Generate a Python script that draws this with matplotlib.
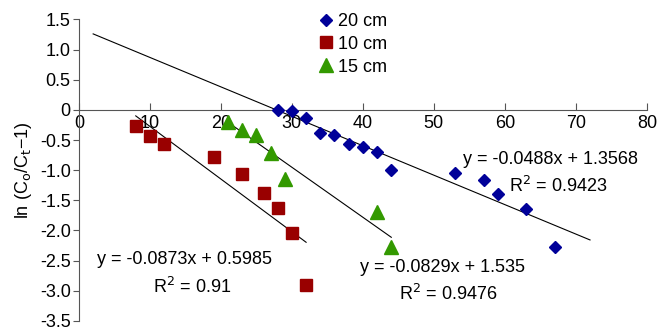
import numpy as np
import matplotlib
matplotlib.use("Agg")
import matplotlib.pyplot as plt

plt.rcParams['font.family'] = ['Liberation Sans', 'DejaVu Sans']
plt.rcParams['font.size'] = 13

# 20 cm
x_20 = [28, 30, 32, 34, 36, 38, 40, 42, 44, 53, 57, 59, 63, 67]
y_20 = [0.0, -0.02, -0.14, -0.38, -0.42, -0.57, -0.62, -0.70, -1.0, -1.04, -1.16, -1.39, -1.64, -2.28]
# 10 cm
x_10 = [8, 10, 12, 19, 23, 26, 28, 30, 32]
y_10 = [-0.26, -0.43, -0.57, -0.78, -1.06, -1.38, -1.63, -2.04, -2.91]
# 15 cm
x_15 = [21, 23, 25, 27, 29, 42, 44]
y_15 = [-0.20, -0.33, -0.42, -0.72, -1.15, -1.70, -2.28]

# trend lines (slope, intercept, x range)
fit_20 = (-0.0488, 1.3568, [2, 72])
fit_10 = (-0.0873, 0.5985, [8, 32])
fit_15 = (-0.0829, 1.535, [21, 44])

fig = plt.figure(figsize=(6.58, 3.34), dpi=100)
ax = fig.add_axes([0.12, 0.039, 0.863, 0.903])

for k, b, xr in [fit_20, fit_10, fit_15]:
    xs = np.array(xr)
    ax.plot(xs, k * xs + b, color='black', lw=0.8, zorder=2)

ax.plot(x_20, y_20, 'D', color='#000099', ms=6, ls='none', label='20 cm', zorder=3)
ax.plot(x_10, y_10, 's', color='#990000', ms=8.6, ls='none', label='10 cm', zorder=3)
ax.plot(x_15, y_15, '^', color='#339900', ms=9.5, ls='none', label='15 cm', zorder=3)

ax.text(54.1, -0.83, 'y = -0.0488x + 1.3568', va='center')
ax.text(60.6, -1.26, 'R$^2$ = 0.9423', va='center')
ax.text(2.5, -2.48, 'y = -0.0873x + 0.5985', va='center')
ax.text(10.4, -2.93, 'R$^2$ = 0.91', va='center')
ax.text(39.6, -2.62, 'y = -0.0829x + 1.535', va='center')
ax.text(45.1, -3.06, 'R$^2$ = 0.9476', va='center')

ax.set_xlim(0, 80)
ax.set_ylim(-3.5, 1.5)
ax.set_xticks(np.arange(0, 81, 10))
ax.set_yticks(np.arange(-3.5, 1.51, 0.5))
ax.set_yticklabels(['-3.5', '-3.0', '-2.5', '-2.0', '-1.5', '-1.0', '-0.5', '0', '0.5', '1.0', '1.5'])

ax.spines['top'].set_visible(False)
ax.spines['right'].set_visible(False)
ax.spines['bottom'].set_position(('data', 0))
ax.spines['bottom'].set_color('#555555')
ax.spines['left'].set_color('#555555')
ax.tick_params(axis='x', direction='in', length=5, color='#555555', pad=4)
ax.tick_params(axis='y', direction='out', length=4, color='#555555', pad=2)

ax.set_ylabel('ln (C$_\\mathrm{o}$/C$_\\mathrm{t}$\u22121)', labelpad=4)

ax.legend(loc='upper left', bbox_to_anchor=(0.403, 1.045), frameon=False,
          handletextpad=0.1, labelspacing=0.32, borderaxespad=0, handlelength=1.2)

fig.savefig('out.png', dpi=100)
